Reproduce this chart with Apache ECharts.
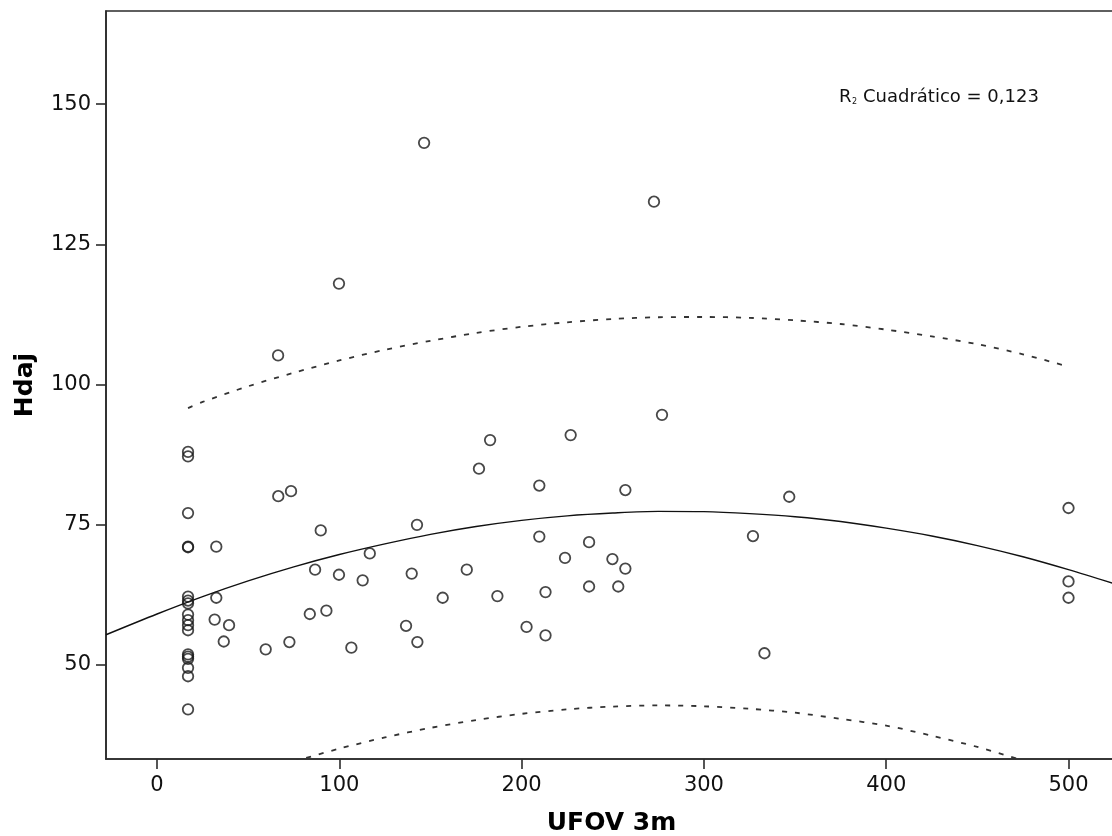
<!DOCTYPE html>
<html>
<head>
<meta charset="utf-8">
<script src="https://cdn.jsdelivr.net/npm/echarts@6/dist/echarts.min.js"></script>
<style>
  html, body { margin: 0; padding: 0; background: #ffffff; }
  #chart { width: 1112px; height: 836px; }
</style>
</head>
<body>
<div id="chart"></div>
<script>
// Observed cases: UFOV 3m (x) against Hdaj (y)
const ufov = [
  17, 17, 17, 17, 17, 17, 17, 17, 17, 17, 17, 17, 17, 17, 17, 17, 17, 17,
  32.5, 32.5, 31.6, 39.5, 36.6, 59.6, 72.6, 66.5, 73.5, 66.4,
  89.8, 86.7, 83.8, 92.9, 99.8, 99.8, 106.6, 112.8, 116.7,
  136.6, 139.7, 142.6, 142.8, 146.5, 156.7, 169.9, 176.6, 182.7, 186.7,
  202.7, 209.7, 209.7, 213.1, 213.1, 223.8, 226.9, 237, 237,
  249.8, 253, 256.9, 256.9, 272.6, 277,
  326.9, 333.2, 346.8, 500, 500, 500
];
const hdaj = [
  88.0, 87.2, 77.1, 71.1, 71.0, 62.2, 61.5, 61.0, 59.0, 58.0, 57.1, 56.2, 51.9, 51.5, 51.1, 49.5, 48.0, 42.1,
  71.1, 62.0, 58.1, 57.1, 54.2, 52.8, 54.1, 80.1, 81.0, 105.2,
  74.0, 67.0, 59.1, 59.7, 66.1, 118.0, 53.1, 65.1, 69.9,
  57.0, 66.3, 75.0, 54.1, 143.1, 62.0, 67.0, 85.0, 90.1, 62.3,
  56.8, 72.9, 82.0, 63.0, 55.3, 69.1, 91.0, 71.9, 64.0,
  68.9, 64.0, 67.2, 81.2, 132.6, 94.6,
  73.0, 52.1, 80.0, 78.0, 64.9, 62.0
];

// Quadratic fit line, sampled along the plotted curve
const fitX = [-28, 0, 25, 50, 75, 100, 125, 150, 175, 200, 225, 250, 275, 300, 325, 350, 375, 400, 425, 450, 475, 500, 527];
const fitY = [55.4, 59.1, 62.2, 65.0, 67.5, 69.7, 71.6, 73.3, 74.7, 75.8, 76.6, 77.1, 77.4, 77.35, 77.0, 76.45, 75.6, 74.4, 73.0, 71.3, 69.3, 67.0, 64.3];

// Upper 95% prediction limit
const upperX = [17, 25, 50, 75, 100, 125, 150, 175, 200, 225, 250, 275, 300, 325, 350, 375, 400, 425, 450, 475, 500];
const upperY = [95.8, 96.9, 99.7, 102.1, 104.3, 106.2, 107.8, 109.2, 110.3, 111.1, 111.7, 112.0, 112.05, 111.9, 111.45, 110.8, 109.8, 108.6, 107.2, 105.4, 103.2];

// Lower 95% prediction limit (runs below the visible range at both ends)
const lowerX = [75, 100, 125, 150, 175, 200, 225, 250, 275, 300, 325, 350, 375, 400, 425, 450, 475];
const lowerY = [32.8, 35.1, 37.1, 38.8, 40.2, 41.3, 42.1, 42.6, 42.8, 42.65, 42.2, 41.5, 40.4, 39.2, 37.4, 35.4, 33.0];

const xTicks = [0, 100, 200, 300, 400, 500];
const yTicks = [50, 75, 100, 125, 150];

const pairs = (xs, ys) => xs.map((x, i) => [x, ys[i]]);

const FONT = 'DejaVu Sans';
const INK = '#111111';
const FRAME = '#2b2b2b';

const chart = echarts.init(document.getElementById('chart'), null, { renderer: 'canvas' });

const dashedLine = {
  type: 'line',
  showSymbol: false,
  smooth: 0.3,
  clip: true,
  silent: true,
  lineStyle: { color: '#333', width: 1.8, type: [5, 8] },
  z: 2
};

chart.setOption({
  animation: false,
  backgroundColor: '#ffffff',
  // plot frame runs past the right edge of the canvas
  grid: {
    left: 106,
    top: 11,
    width: 1011,
    height: 748,
    outerBoundsMode: 'none',
    containLabel: false,
    show: true,
    borderColor: FRAME,
    borderWidth: 1.6,
    backgroundColor: 'transparent'
  },
  xAxis: {
    type: 'value',
    min: -28,
    max: 526.6,
    name: 'UFOV 3m',
    nameLocation: 'middle',
    nameGap: 52,
    nameTextStyle: { fontFamily: FONT, fontWeight: 'bold', fontSize: 25, color: '#000' },
    axisLine: { show: true, onZero: false, lineStyle: { color: FRAME, width: 1.6 } },
    axisTick: { show: true, length: 10, customValues: xTicks, lineStyle: { color: FRAME, width: 1.6 } },
    axisLabel: { customValues: xTicks, margin: 16, fontFamily: FONT, fontSize: 21, color: INK },
    splitLine: { show: false }
  },
  yAxis: {
    type: 'value',
    min: 33.25,
    max: 166.6,
    name: 'Hdaj',
    nameLocation: 'middle',
    nameRotate: 90,
    nameGap: 68,
    nameTextStyle: { fontFamily: FONT, fontWeight: 'bold', fontSize: 25, color: '#000' },
    axisLine: { show: true, onZero: false, lineStyle: { color: FRAME, width: 1.6 } },
    axisTick: { show: true, length: 10, customValues: yTicks, lineStyle: { color: FRAME, width: 1.6 } },
    axisLabel: { customValues: yTicks, margin: 15, fontFamily: FONT, fontSize: 21, color: INK },
    splitLine: { show: false }
  },
  series: [
    Object.assign({ name: 'Límite superior', data: pairs(upperX, upperY) }, dashedLine),
    Object.assign({ name: 'Límite inferior', data: pairs(lowerX, lowerY) }, dashedLine),
    {
      name: 'Cuadrático',
      type: 'line',
      data: pairs(fitX, fitY),
      showSymbol: false,
      smooth: 0.3,
      clip: true,
      silent: true,
      lineStyle: { color: '#111', width: 1.4 },
      z: 3
    },
    {
      name: 'Hdaj',
      type: 'scatter',
      data: pairs(ufov, hdaj),
      symbol: 'circle',
      symbolSize: 10.5,
      itemStyle: { color: 'transparent', borderColor: '#1a1a1a', borderWidth: 1.8 },
      z: 4
    }
  ],
  graphic: [
    {
      type: 'group',
      left: 839,
      top: 88,
      children: [
        { type: 'text', x: 0, y: 0, style: { text: 'R', fontFamily: FONT, fontSize: 18, fill: INK } },
        { type: 'text', x: 13, y: 10, style: { text: '2', fontFamily: FONT, fontSize: 8, fill: INK } },
        { type: 'text', x: 24, y: 0, style: { text: 'Cuadrático = 0,123', fontFamily: FONT, fontSize: 18, fill: INK } }
      ]
    }
  ]
});
</script>
</body>
</html>
